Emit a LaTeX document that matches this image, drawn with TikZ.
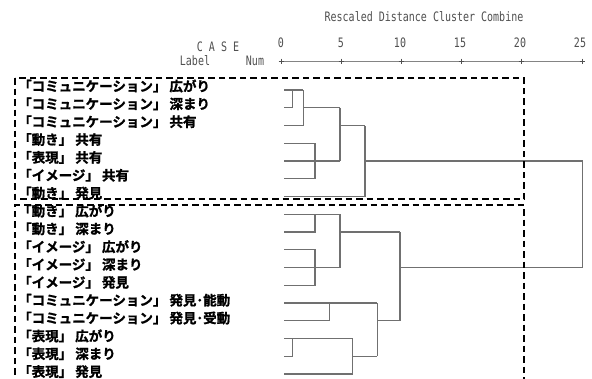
\documentclass[tikz,border=0pt]{standalone}
\usepackage{fontspec}
\newfontfamily\jp[FakeBold=1.2]{Noto Sans CJK JP Bold}
\newfontfamily\monof{DejaVu Sans Mono}
\definecolor{dend}{HTML}{707070}
\definecolor{hdr}{HTML}{505050}
\newcommand{\hdtxt}[1]{\scalebox{1.0}[1.3]{#1}}
\begin{document}
\begin{tikzpicture}[x=1pt,y=-1pt,
  lbl/.style={anchor=west,inner sep=0pt,font=\jp\fontsize{13.5}{14}\selectfont},
  hd/.style={inner sep=0pt,text=hdr,font=\monof\fontsize{10}{11}\selectfont},
  dg/.style={draw=dend,line width=1.1pt},
  box/.style={draw=black,line width=2pt,dash pattern=on 6.5pt off 4pt}]
\useasboundingbox[fill=white] (0,0) rectangle (592,378);
% header
\node[hd] (title) at (424,17) {\hdtxt{Rescaled Distance Cluster Combine}};
\node[hd] (case) at (218,47) {\hdtxt{C A S E}};
\node[hd] (label) at (195,61) {\hdtxt{Label}};
\node[hd] (num) at (255,61) {\hdtxt{Num}};
\foreach \v/\x in {0/281,5/341,10/400,15/460,20/520,25/580}{
  \node[hd] (n\v) at (\x,43) {\hdtxt{\v}};
}
\draw[draw=hdr!70,line width=0.5pt] (281,61) -- (583,61);
\foreach \x in {281,341,401,461,521,582}{
  \draw[draw=hdr,line width=0.6pt] (\x,58.5) -- (\x,63.5) (\x-2.5,61) -- (\x+2.5,61);
}
% labels
\foreach \i/\t in {1/「コミュニケーション」 広がり,2/「コミュニケーション」 深まり,3/「コミュニケーション」 共有,4/「動き」 共有,5/「表現」 共有,6/「イメージ」 共有,7/「動き」 発見,8/「動き」 広がり,9/「動き」 深まり,10/「イメージ」 広がり,11/「イメージ」 深まり,12/「イメージ」 発見,13/「コミュニケーション」 発見･能動,14/「コミュニケーション」 発見･受動,15/「表現」 広がり,16/「表現」 深まり,17/「表現」 発見}{
  \node[lbl] (l\i) at (18,{86+17.85*(\i-1)}) {\t};
  \coordinate (r\i) at (284,{90+17.75*(\i-1)});
}
% dendrogram top
\draw[dg] (r1) -- (303.3,90);
\draw[dg] (r2) -- (292.7,107.75) -- (292.7,90);
\draw[dg] (r3) -- (303.3,125.5) -- (303.3,90);
\draw[dg] (303.3,107.75) -- (340,107.75);
\draw[dg] (r4) -- (315,143.25) -- (315,178.75) -- (r6);
\draw[dg] (r5) -- (340,161);
\draw[dg] (340,107.75) -- (340,161);
\draw[dg] (340,125.5) -- (365,125.5);
\draw[dg] (r7) -- (365,196.5) -- (365,125.5);
\draw[dg] (365,161) -- (582.7,161) -- (582.7,267.5) -- (400,267.5);
% dendrogram bottom
\draw[dg] (r8) -- (340,214.25);
\draw[dg] (r9) -- (315,232) -- (315,214.25);
\draw[dg] (r10) -- (315,249.75) -- (315,285.25) -- (r12);
\draw[dg] (r11) -- (340,267.5);
\draw[dg] (340,214.25) -- (340,267.5);
\draw[dg] (340,232) -- (400,232);
\draw[dg] (r13) -- (377.3,303);
\draw[dg] (r14) -- (329.3,320.75) -- (329.3,303);
\draw[dg] (r15) -- (352.7,338.5);
\draw[dg] (r16) -- (292.7,356.25) -- (292.7,338.5);
\draw[dg] (r17) -- (352.7,374) -- (352.7,338.5);
\draw[dg] (352.7,356.25) -- (377.3,356.25);
\draw[dg] (377.3,303) -- (377.3,356.25);
\draw[dg] (377.3,320.75) -- (400,320.75);
\draw[dg] (400,232) -- (400,320.75);
% dashed boxes
\draw[box] (15,78) rectangle (524,199);
\draw[box] (15,385) -- (15,205) -- (524,205) -- (524,385);
\end{tikzpicture}
\end{document}
